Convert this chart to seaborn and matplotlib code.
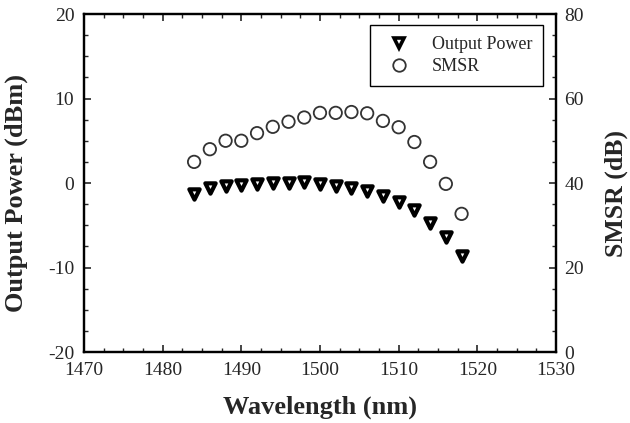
import pandas as pd
import matplotlib.pyplot as plt
import seaborn as sns
from matplotlib.ticker import MultipleLocator
from matplotlib.lines import Line2D

# data
wavelength = [1484, 1486, 1488, 1490, 1492, 1494, 1496, 1498, 1500,
              1502, 1504, 1506, 1508, 1510, 1512, 1514, 1516, 1518]
output_power = [-1.3, -0.6, -0.3, -0.2, -0.1, 0.0, 0.0, 0.1, -0.1,
                -0.3, -0.6, -1.0, -1.5, -2.2, -3.2, -4.7, -6.4, -8.6]
smsr = [45.0, 48.0, 50.0, 50.0, 51.8, 53.3, 54.5, 55.5, 56.6,
        56.6, 56.8, 56.5, 54.7, 53.2, 49.7, 45.0, 39.8, 32.7]

df = pd.DataFrame({'Wavelength': wavelength, 'Power': output_power, 'SMSR': smsr})

sns.set_style('white')
plt.rcParams['font.family'] = ['Liberation Serif', 'DejaVu Serif']
plt.rcParams['axes.unicode_minus'] = False

fig = plt.figure(figsize=(6.3, 4.23), dpi=100)
ax = fig.add_axes([0.1333, 0.1678, 0.7492, 0.7991])
ax2 = ax.twinx()

sns.scatterplot(data=df, x='Wavelength', y='Power', ax=ax, marker='v', s=55,
                facecolor='white', edgecolor='black', linewidth=3.0, zorder=3)
sns.scatterplot(data=df, x='Wavelength', y='SMSR', ax=ax2, marker='o', s=80,
                facecolor='none', edgecolor='#333333', linewidth=1.3, zorder=3)

ax.set_xlim(1470, 1530)
ax.set_ylim(-20, 20)
ax2.set_ylim(0, 80)
ax.xaxis.set_major_locator(MultipleLocator(10))
ax.xaxis.set_minor_locator(MultipleLocator(2.5))
ax.yaxis.set_major_locator(MultipleLocator(10))
ax.yaxis.set_minor_locator(MultipleLocator(2.5))
ax2.yaxis.set_major_locator(MultipleLocator(20))
ax2.yaxis.set_minor_locator(MultipleLocator(5))

ax.tick_params(axis='x', which='both', direction='in', top=True, bottom=True, labelsize=14, pad=7)
ax.tick_params(axis='y', which='both', direction='in', left=True, right=False, labelsize=14, pad=7)
ax2.tick_params(axis='y', which='both', direction='in', right=True, labelsize=14, pad=6)
for a in (ax, ax2):
    a.tick_params(which='major', length=5, width=1.2)
    a.tick_params(which='minor', length=3, width=1.0)
    for s in a.spines.values():
        s.set_linewidth(1.6)
        s.set_color('black')

ax.set_xlabel('Wavelength (nm)', fontsize=19, fontweight='bold')
ax.set_ylabel('Output Power (dBm)', fontsize=19, fontweight='bold')
ax2.set_ylabel('SMSR (dB)', fontsize=18.5, fontweight='bold')
ax.xaxis.set_label_coords(0.5, -0.128)
ax.yaxis.set_label_coords(-0.118, 0.47)
ax2.yaxis.set_label_coords(1.104, 0.47)

handles = [
    Line2D([], [], ls='none', marker='v', ms=7, mfc='white', mec='black', mew=2.6),
    Line2D([], [], ls='none', marker='o', ms=9, mfc='none', mec='#333333', mew=1.3),
]
leg = ax2.legend(handles, ['Output Power', 'SMSR'], loc='upper right', fontsize=13,
                 frameon=True, fancybox=False, edgecolor='black', framealpha=1,
                 borderpad=0.6, handlelength=2.0, handletextpad=0.8, labelspacing=0.3,
                 borderaxespad=0, bbox_to_anchor=(0.9725, 0.967))
leg.get_frame().set_linewidth(1.0)

fig.savefig('out.png', dpi=100)
